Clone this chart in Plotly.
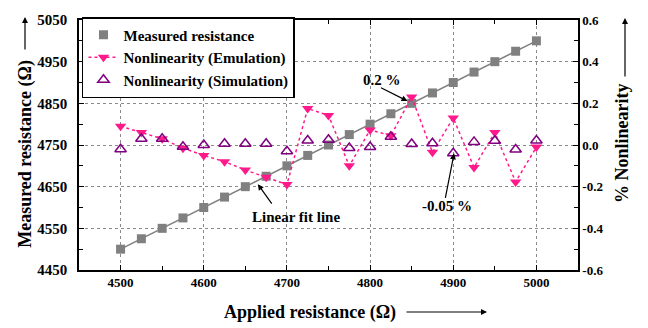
import plotly.graph_objects as go

# ---- data ----
applied = [4500, 4525, 4550, 4575, 4600, 4625, 4650, 4675, 4700, 4725, 4750,
           4775, 4800, 4825, 4850, 4875, 4900, 4925, 4950, 4975, 5000]
measured = [4500, 4525, 4550, 4575, 4600, 4625, 4650, 4675, 4700, 4725, 4750,
            4775, 4800, 4825, 4850, 4875, 4900, 4925, 4950, 4975, 5000]
nonlin_emulation = [0.09, 0.06, 0.03, -0.015, -0.05, -0.08, -0.12, -0.155, -0.19, 0.175, 0.142,
                    -0.10, 0.072, 0.045, 0.23, -0.035, 0.13, -0.108, 0.06, -0.177, -0.01]
nonlin_simulation = [-0.02, 0.03, 0.03, -0.008, 0.0, 0.006, 0.006, 0.006, -0.03, 0.022, 0.025,
                     -0.014, -0.01, 0.04, 0.005, 0.008, -0.04, 0.015, 0.02, -0.022, 0.022]
x_ticks = [4500, 4600, 4700, 4800, 4900, 5000]
y_ticks = [4450, 4550, 4650, 4750, 4850, 4950, 5050]
y2_ticks = [-0.6, -0.4, -0.2, 0.0, 0.2, 0.4, 0.6]
y2_labels = ["-0.6", "-0.4", "-0.2", "0.0", "0.2", "0.4", "0.6"]

FONT = "Liberation Serif"
tfont = dict(family=FONT, size=13, color="black", weight="bold")
yfont = dict(family=FONT, size=15, color="black", weight="bold")
lfont = dict(family=FONT, size=15, color="black", weight="bold")

fig = go.Figure()
fig.add_trace(go.Scatter(x=applied, y=measured, mode="lines", showlegend=False,
                         line=dict(color="#808080", width=1.5), hoverinfo="skip"))
fig.add_trace(go.Scatter(x=applied, y=measured, mode="markers", name="Measured resistance",
                         marker=dict(symbol="square", size=9, color="#808080")))
fig.add_trace(go.Scatter(x=applied, y=nonlin_emulation, mode="lines+markers",
                         name="Nonlinearity (Emulation)", yaxis="y2",
                         line=dict(color="#ff1a8c", width=1.5, dash="dot"),
                         marker=dict(symbol="triangle-down", size=10, color="#ff1a8c")))
fig.add_trace(go.Scatter(x=applied, y=nonlin_simulation, mode="markers",
                         name="Nonlinearity (Simulation)", yaxis="y2",
                         marker=dict(symbol="triangle-up-open", size=10, color="#800080",
                                     line=dict(width=1.5, color="#800080"))))

axis_common = dict(showline=True, linecolor="black", linewidth=1.5, ticks="inside",
                   ticklen=5, tickwidth=1.2, tickcolor="black", zeroline=False)

fig.update_layout(
    width=648, height=328,
    margin=dict(l=79, r=70, t=14, b=58),
    plot_bgcolor="white", paper_bgcolor="white",
    xaxis=dict(range=[4450, 5050], tickvals=x_ticks, showgrid=True, griddash="dot",
               gridcolor="#8a8a8a", gridwidth=1, mirror="ticks", tickfont=tfont,
               minor=dict(dtick=50, tick0=4450, ticks="inside", ticklen=4, tickcolor="black", showgrid=False),
               **axis_common),
    yaxis=dict(range=[4450, 5050], tickvals=y_ticks, showgrid=True, griddash="dot",
               gridcolor="#8a8a8a", gridwidth=1, ticklabelstandoff=7, tickfont=yfont,
               minor=dict(dtick=50, tick0=4450, ticks="inside", ticklen=4, tickcolor="black", showgrid=False),
               **axis_common),
    yaxis2=dict(range=[-0.6, 0.6], tickvals=y2_ticks, ticktext=y2_labels, overlaying="y",
                side="right", showgrid=False, tickfont=tfont,
                minor=dict(dtick=0.1, tick0=-0.6, ticks="inside", ticklen=4, tickcolor="black", showgrid=False),
                **axis_common),
    legend=dict(x=0.006, y=1.012, xanchor="left", yanchor="top", bgcolor="white",
                bordercolor="black", borderwidth=1.5, font=lfont, tracegroupgap=0),
    showlegend=True,
)

tit = dict(family=FONT, size=18, color="black", weight="bold")
ann = []
ctr = dict(xanchor="center", yanchor="middle", showarrow=False, xref="paper", yref="paper")
# axis titles
ann.append(dict(ctr, text="Measured resistance (Ω)", x=(26 - 79) / 499, y=(270 - 151) / 256,
                textangle=-90, font=tit))
ann.append(dict(ctr, text="Applied resistance (Ω)", x=(310 - 79) / 499, y=(270 - 314) / 256, font=tit))
ann.append(dict(ctr, text="% Nonlinearity", x=(622 - 79) / 499, y=(270 - 140) / 256,
                textangle=-90, font=tit))
# axis arrows
arrow = dict(text="", showarrow=True, arrowhead=2, arrowsize=1, arrowwidth=1.2,
             arrowcolor="black", xref="paper", yref="paper")
ann.append(dict(arrow, x=(25 - 79) / 499, y=(270 - 11) / 256, ax=0, ay=34))
ann.append(dict(arrow, x=(625 - 79) / 499, y=(270 - 12) / 256, ax=0, ay=60))
ann.append(dict(arrow, x=(487 - 79) / 499, y=(270 - 313) / 256, ax=-82, ay=0))
# data annotations
afont = dict(family=FONT, size=15, color="black", weight="bold")
dtxt = dict(xanchor="center", yanchor="middle", showarrow=False, font=afont, xref="x")
ann.append(dict(dtxt, text="Linear fit line", x=4711, y=4577, yref="y"))
ann.append(dict(text="", x=4665, y=4656, xref="x", yref="y", ax=15, ay=21, showarrow=True,
                arrowhead=2, arrowsize=1, arrowwidth=1.2, arrowcolor="black"))
ann.append(dict(dtxt, text="0.2 %", x=4814, y=0.31, yref="y2"))
ann.append(dict(text="", x=4845, y=0.211, xref="x", yref="y2", ax=-28, ay=-14, showarrow=True,
                arrowhead=2, arrowsize=1, arrowwidth=1.2, arrowcolor="black"))
ann.append(dict(dtxt, text="-0.05 %", x=4892, y=-0.295, yref="y2"))
ann.append(dict(text="", x=4901, y=-0.04, xref="x", yref="y2", ax=-9, ay=46, showarrow=True,
                arrowhead=2, arrowsize=1, arrowwidth=1.2, arrowcolor="black"))
fig.update_layout(annotations=ann)

fig.write_html("out.html")
